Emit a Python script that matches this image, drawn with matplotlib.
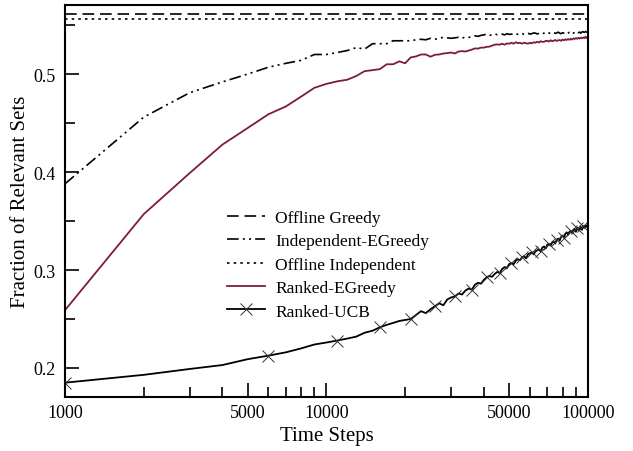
import numpy as np
import matplotlib
matplotlib.use("Agg")
import matplotlib.pyplot as plt
from matplotlib.ticker import FixedLocator, NullFormatter, MultipleLocator

plt.rcParams["font.family"] = ["Liberation Serif", "DejaVu Serif"]

# time steps: every 1000 steps up to 100000
steps = np.arange(1000, 100001, 1000)

offline_greedy = 0.561
offline_independent = 0.556

independent_egreedy = [
    0.388, 0.456, 0.481, 0.492, 0.500, 0.507, 0.511, 0.514, 0.520, 0.520,
    0.522, 0.524, 0.527, 0.5255, 0.531, 0.531, 0.531, 0.534, 0.534, 0.534,
    0.534, 0.535, 0.5355, 0.535, 0.5365, 0.5355, 0.5365, 0.5375, 0.537, 0.5365,
    0.537, 0.5375, 0.5364, 0.538, 0.5375, 0.538, 0.539, 0.5385, 0.5395, 0.540,
    0.5408, 0.5395, 0.540, 0.541, 0.5402, 0.5408, 0.5408, 0.540, 0.5412, 0.5405,
    0.5408, 0.540, 0.5412, 0.5405, 0.5408, 0.5415, 0.5405, 0.541, 0.5418, 0.5408,
    0.5412, 0.542, 0.5418, 0.541, 0.5415, 0.5422, 0.5412, 0.5418, 0.5425, 0.5415,
    0.542, 0.5412, 0.5418, 0.5425, 0.5415, 0.542, 0.5428, 0.5418, 0.5412, 0.5422,
    0.5418, 0.5428, 0.5415, 0.542, 0.5425, 0.5418, 0.543, 0.5418, 0.5425, 0.542,
    0.5432, 0.5422, 0.5428, 0.5418, 0.543, 0.5432, 0.5425, 0.5435, 0.5428, 0.5432,
]

ranked_egreedy = [
    0.259, 0.357, 0.399, 0.428, 0.445, 0.459, 0.467, 0.477, 0.486, 0.490,
    0.4926, 0.4942, 0.498, 0.503, 0.504, 0.505, 0.510, 0.510, 0.513, 0.511,
    0.517, 0.518, 0.520, 0.520, 0.5177, 0.5197, 0.520, 0.521, 0.5214, 0.522,
    0.521, 0.523, 0.5234, 0.523, 0.524, 0.525, 0.5262, 0.526, 0.527, 0.527,
    0.5278, 0.528, 0.529, 0.530, 0.5303, 0.530, 0.531, 0.530, 0.5313, 0.531,
    0.532, 0.531, 0.5325, 0.5315, 0.5319, 0.531, 0.532, 0.5315, 0.531, 0.532,
    0.5313, 0.5325, 0.532, 0.533, 0.5322, 0.5335, 0.5328, 0.533, 0.5338, 0.534,
    0.5332, 0.5345, 0.5335, 0.534, 0.5348, 0.5338, 0.5345, 0.5347, 0.534, 0.5352,
    0.5345, 0.5355, 0.5348, 0.5358, 0.535, 0.536, 0.5352, 0.5364, 0.5358, 0.5368,
    0.536, 0.537, 0.5362, 0.5372, 0.5365, 0.5374, 0.5366, 0.5382, 0.5368, 0.537,
]

ranked_ucb = [
    0.185, 0.193, 0.199, 0.203, 0.209, 0.2126, 0.216, 0.220, 0.224, 0.226,
    0.228, 0.230, 0.232, 0.236, 0.238, 0.2415, 0.244, 0.246, 0.248, 0.249,
    0.250, 0.254, 0.258, 0.256, 0.260, 0.263, 0.266, 0.264, 0.270, 0.272,
    0.273, 0.276, 0.275, 0.279, 0.281, 0.280, 0.285, 0.287, 0.286, 0.290,
    0.2925, 0.294, 0.293, 0.296, 0.298, 0.297, 0.301, 0.303, 0.302, 0.306,
    0.307, 0.306, 0.3095, 0.311, 0.310, 0.313, 0.314, 0.312, 0.316, 0.317,
    0.318, 0.316, 0.319, 0.320, 0.321, 0.319, 0.323, 0.324, 0.322, 0.326,
    0.3265, 0.325, 0.328, 0.329, 0.327, 0.331, 0.332, 0.330, 0.334, 0.335,
    0.333, 0.337, 0.3385, 0.336, 0.339, 0.340, 0.338, 0.341, 0.342, 0.339,
    0.343, 0.341, 0.3418, 0.344, 0.341, 0.345, 0.343, 0.3452, 0.344, 0.347,
]

xtick_vals = [1000, 5000, 10000, 50000, 100000]
xminor_vals = [2000, 3000, 4000, 6000, 7000, 8000, 9000,
               20000, 30000, 40000, 60000, 70000, 80000, 90000]

fig = plt.figure(figsize=(6.33, 4.52), dpi=100)
ax = fig.add_axes([0.1027, 0.1195, 0.826, 0.867])

ax.axhline(offline_greedy, color="black", lw=1.2, ls=(0, (7, 3.5)), label="Offline Greedy")
ax.plot(steps, independent_egreedy, color="black", lw=1.2,
        ls=(0, (7, 2.5, 1.2, 2.5, 1.2, 2.5)), label="Independent-EGreedy")
ax.axhline(offline_independent, color="black", lw=1.2, ls=(0, (1.5, 2.5)),
           label="Offline Independent")
ax.plot(steps, ranked_egreedy, color="#7d1c36", lw=1.3, label="Ranked-EGreedy")
ax.plot(steps, ranked_ucb, color="black", lw=1.3, marker="x", markevery=5,
        markersize=9, markeredgewidth=0.7, markeredgecolor="#333333",
        label="Ranked-UCB")

ax.set_xscale("log")
ax.set_xlim(1000, 100000)
ax.set_ylim(0.1704, 0.5704)

ax.xaxis.set_major_locator(FixedLocator(xtick_vals))
ax.set_xticklabels([str(v) for v in xtick_vals])
ax.xaxis.set_minor_locator(FixedLocator(xminor_vals))
ax.xaxis.set_minor_formatter(NullFormatter())
ax.yaxis.set_major_locator(MultipleLocator(0.1))
ax.yaxis.set_minor_locator(MultipleLocator(0.05))

ax.tick_params(which="both", direction="in", top=False, right=False,
               labelsize=13, width=1.2)
ax.tick_params(axis="x", pad=5)
ax.tick_params(axis="y", pad=7)
ax.tick_params(which="major", length=10)
ax.tick_params(which="minor", length=7)
for s in ax.spines.values():
    s.set_linewidth(1.5)

ax.set_xlabel("Time Steps", fontsize=15, labelpad=4)
ax.set_ylabel("Fraction of Relevant Sets", fontsize=15, labelpad=2)

ax.legend(loc="upper left", bbox_to_anchor=(0.279, 0.518), frameon=False,
          fontsize=12.5, handlelength=2.2, labelspacing=0.42, handletextpad=0.6)

fig.savefig("out.png", dpi=100)
